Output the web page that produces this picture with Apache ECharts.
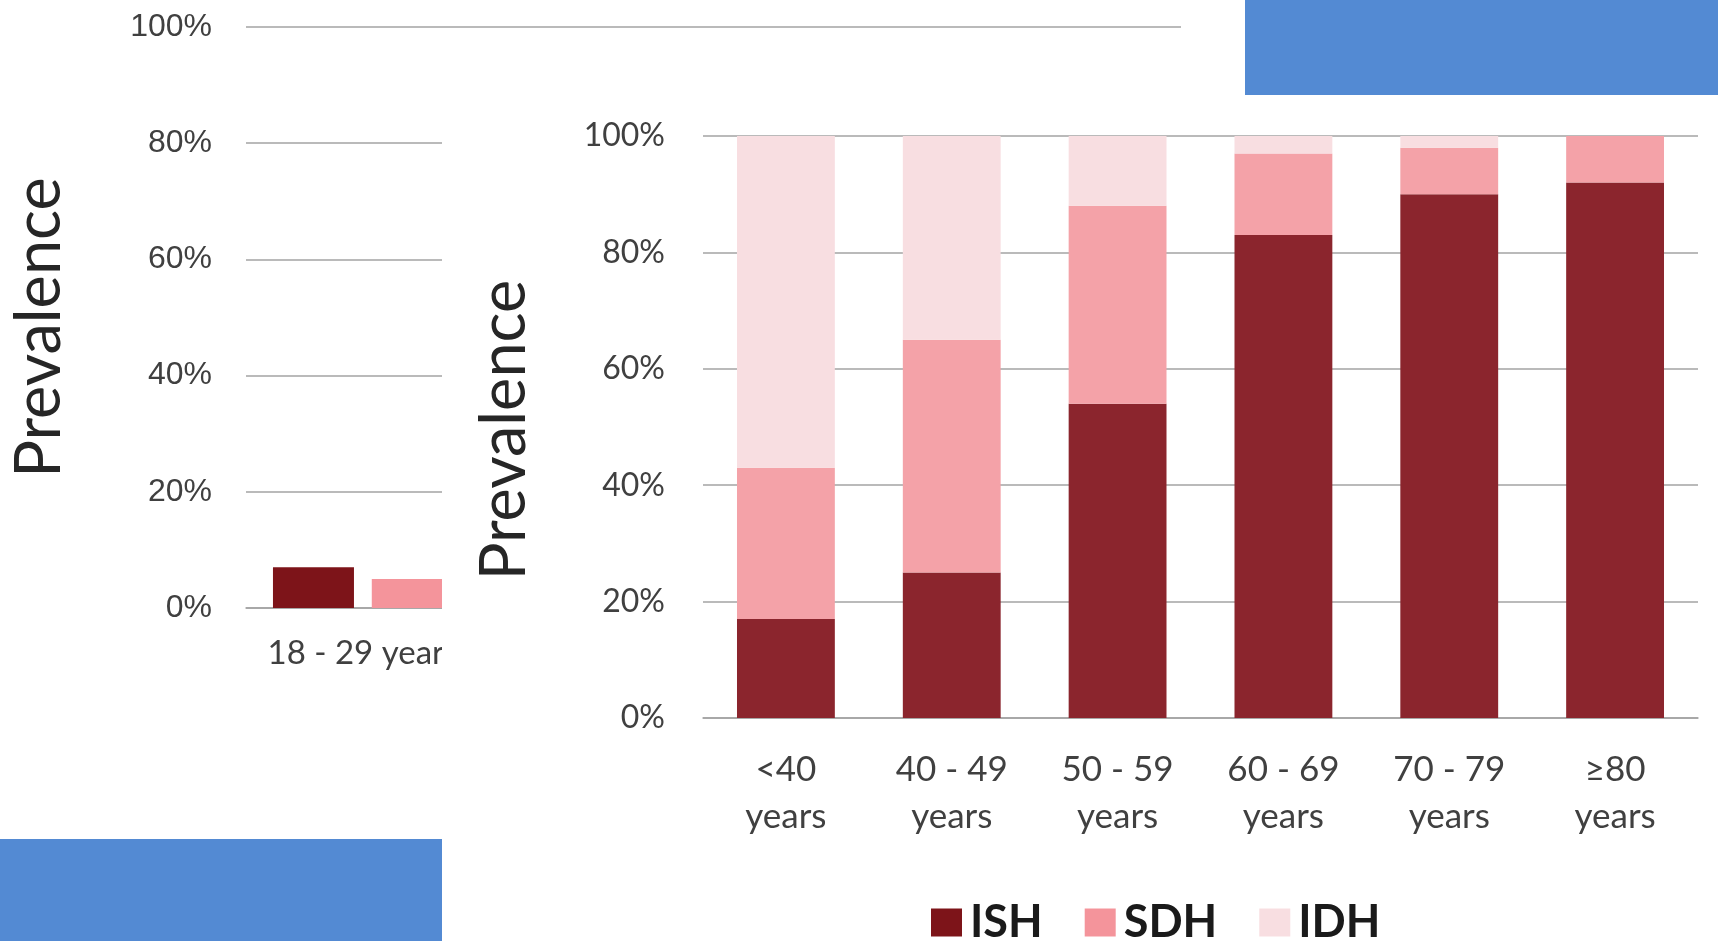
<!DOCTYPE html>
<html>
<head>
<meta charset="utf-8">
<title>Prevalence of hypertension subtypes by age group</title>
<script src="https://cdn.jsdelivr.net/npm/echarts@6/dist/echarts.min.js"></script>
<style>
  html, body { margin: 0; padding: 0; background: #ffffff; }
  #chart { width: 1718px; height: 941px; }
</style>
</head>
<body>
<div id="chart"></div>
<script>
// Background panel: grouped bars by age group (only the first group is exposed)
const backCategories = ['18 - 29 years', '', '', ''];
const backISH = [7, null, null, null];
const backSDH = [5, null, null, null];

// Foreground panel: stacked subtype shares by age group (%)
const ageGroups = ['<40\nyears', '40 - 49\nyears', '50 - 59\nyears', '60 - 69\nyears', '70 - 79\nyears', '≥80\nyears'];
const ishValues = [17, 25, 54, 83, 90, 92];
const sdhValues = [26, 40, 34, 14, 8, 8];
const idhValues = [57, 35, 12, 3, 2, 0];

const seriesNames = ['ISH', 'SDH', 'IDH'];
const axisTitle = 'Prevalence';

const COLORS = { ish: '#8b252d', sdh: '#f4a2a8', idh: '#f8dee1' };
const GRID_LINE = '#a3a3a3';
const FONT = 'Lato, "Liberation Sans", sans-serif';

const chart = echarts.init(document.getElementById('chart'), null, { renderer: 'canvas' });

const pct = v => v + '%';

const option = {
  backgroundColor: '#ffffff',
  animation: false,
  grid: [
    // background panel
    { left: 235, right: 537, top: 27, bottom: 333, zlevel: 0 },
    // foreground panel
    { left: 703, right: 20, top: 136, bottom: 223, zlevel: 2 }
  ],
  xAxis: [
    {
      type: 'category', gridIndex: 0, data: backCategories, zlevel: 0,
      axisLine: { lineStyle: { color: GRID_LINE, width: 1.5 } },
      axisTick: { show: false },
      axisLabel: { color: '#404040', fontFamily: FONT, fontSize: 33, margin: 29 }
    },
    {
      type: 'category', gridIndex: 1, data: ageGroups, zlevel: 2,
      axisLine: { lineStyle: { color: GRID_LINE, width: 1.5 } },
      axisTick: { show: false },
      axisLabel: { color: '#404040', fontFamily: FONT, fontSize: 35, lineHeight: 47, margin: 28, interval: 0 }
    }
  ],
  yAxis: [
    {
      type: 'value', gridIndex: 0, min: 0, max: 100, interval: 20, zlevel: 0,
      name: axisTitle, nameLocation: 'middle', nameGap: 175, nameRotate: 90,
      nameTextStyle: { color: '#262626', fontFamily: FONT, fontSize: 63, padding: [0, 20, 0, 0] },
      axisLine: { show: false }, axisTick: { show: false },
      axisLabel: { formatter: pct, color: '#404040', fontFamily: '"Liberation Sans", sans-serif', fontSize: 32, margin: 34 },
      splitLine: { lineStyle: { color: GRID_LINE, width: 1.5 } }
    },
    {
      type: 'value', gridIndex: 1, min: 0, max: 100, interval: 20, zlevel: 2,
      name: axisTitle, nameLocation: 'middle', nameGap: 167, nameRotate: 90,
      nameTextStyle: { color: '#262626', fontFamily: FONT, fontSize: 63, padding: [0, 6, 0, 0] },
      axisLine: { show: false }, axisTick: { show: false },
      axisLabel: { formatter: pct, color: '#404040', fontFamily: FONT, fontSize: 32, margin: 38 },
      splitLine: { lineStyle: { color: GRID_LINE, width: 1.5 } }
    }
  ],
  legend: {
    zlevel: 2,
    data: seriesNames,
    left: 926, top: 895,
    itemWidth: 31, itemHeight: 28, itemGap: 42,
    icon: 'rect',
    textStyle: { color: '#1a1a1a', fontFamily: FONT, fontSize: 45, fontWeight: 'bold', padding: [0, 0, 0, 3] }
  },
  graphic: [
    // the foreground panel sits on a white card over the background panel
    { type: 'rect', zlevel: 1, shape: { x: 442, y: 97, width: 1276, height: 844 }, style: { fill: '#ffffff' } },
    // decorative blue blocks
    { type: 'rect', zlevel: 3, shape: { x: 1245, y: 0, width: 473, height: 95 }, style: { fill: '#538ad3' } },
    { type: 'rect', zlevel: 3, shape: { x: 0, y: 839, width: 442, height: 102 }, style: { fill: '#538ad3' } }
  ],
  series: [
    {
      name: 'ISH', type: 'bar', xAxisIndex: 0, yAxisIndex: 0, zlevel: 0,
      data: backISH, barWidth: 81, barGap: '22%',
      itemStyle: { color: '#7d1419' }, legendHoverLink: false
    },
    {
      name: 'SDH', type: 'bar', xAxisIndex: 0, yAxisIndex: 0, zlevel: 0,
      data: backSDH, barWidth: 81, barGap: '22%',
      itemStyle: { color: '#f4949b' }, legendHoverLink: false
    },
    {
      name: 'ISH', type: 'bar', stack: 'share', xAxisIndex: 1, yAxisIndex: 1, zlevel: 2,
      data: ishValues, barCategoryGap: '41%', itemStyle: { color: COLORS.ish }
    },
    {
      name: 'SDH', type: 'bar', stack: 'share', xAxisIndex: 1, yAxisIndex: 1, zlevel: 2,
      data: sdhValues, barCategoryGap: '41%', itemStyle: { color: COLORS.sdh }
    },
    {
      name: 'IDH', type: 'bar', stack: 'share', xAxisIndex: 1, yAxisIndex: 1, zlevel: 2,
      data: idhValues, barCategoryGap: '41%', itemStyle: { color: COLORS.idh }
    }
  ]
};

chart.setOption(option);
</script>
</body>
</html>
